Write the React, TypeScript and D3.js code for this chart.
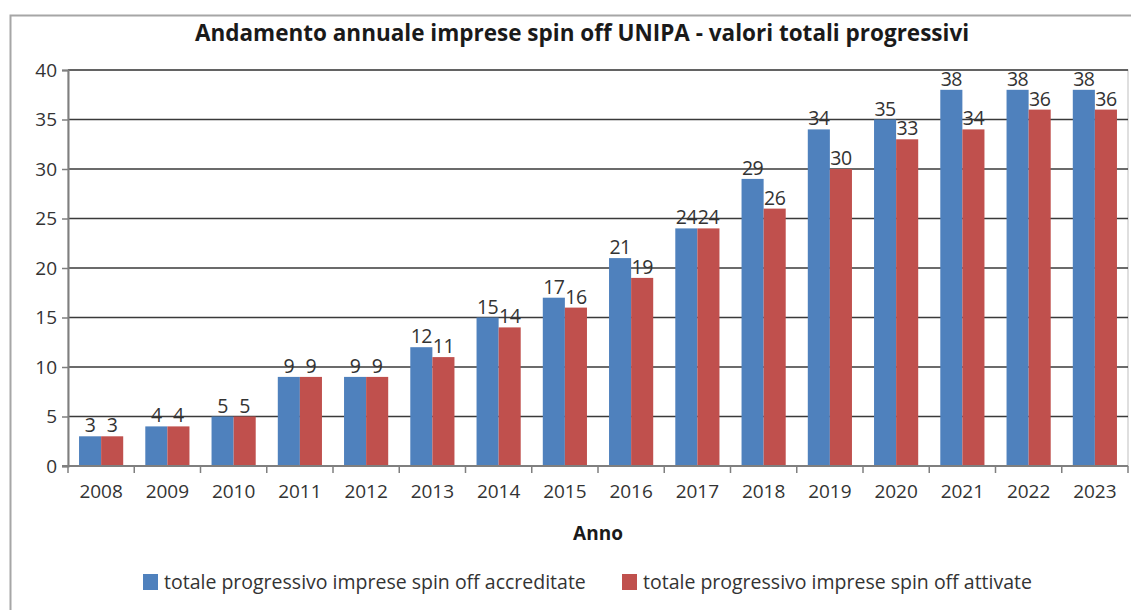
import * as d3 from 'd3';
import { useEffect, useRef } from 'react';

const years = ['2008', '2009', '2010', '2011', '2012', '2013', '2014', '2015', '2016', '2017', '2018', '2019', '2020', '2021', '2022', '2023'];
const accreditate = [3, 4, 5, 9, 9, 12, 15, 17, 21, 24, 29, 34, 35, 38, 38, 38];
const attivate = [3, 4, 5, 9, 9, 11, 14, 16, 19, 24, 26, 30, 33, 34, 36, 36];
const seriesNames = ['totale progressivo imprese spin off accreditate', 'totale progressivo imprese spin off attivate'];
const yTicks = [0, 5, 10, 15, 20, 25, 30, 35, 40];

const BarChart = () => {
  const svgRef = useRef<any>();
  const width = 1131;
  const height = 610;
  const marginLeft = 68;
  const marginRight = 3;
  const marginTop = 70;
  const plotBottom = 466;
  const font = "'Open Sans', 'DejaVu Sans', sans-serif";
  const colors = ['#4F81BD', '#C0504D'];

  useEffect(() => {
    const svg = d3.select(svgRef.current);
    svg.selectAll('*').remove();

    // outer chart border (cut off on right and bottom like the screenshot)
    svg
      .append('rect')
      .attr('x', 10.5)
      .attr('y', 15.5)
      .attr('width', 1200)
      .attr('height', 700)
      .attr('fill', 'white')
      .attr('stroke', '#a6a6a6')
      .attr('stroke-width', 2);

    svg
      .append('text')
      .attr('x', 582)
      .attr('y', 41)
      .attr('text-anchor', 'middle')
      .attr('font-family', font)
      .attr('font-weight', 'bold')
      .attr('font-size', 22.5)
      .attr('fill', '#1a1a1a')
      .text('Andamento annuale imprese spin off UNIPA - valori totali progressivi');

    const xScale = d3.scaleBand().domain(years).range([marginLeft, width - marginRight]);
    const inner = d3
      .scaleBand()
      .domain(['0', '1'])
      .range([xScale.bandwidth() / 6, (xScale.bandwidth() * 5) / 6]);
    const yScale = d3.scaleLinear().domain([0, 40]).range([plotBottom, marginTop]);

    // plot area border
    svg
      .append('rect')
      .attr('x', marginLeft)
      .attr('y', marginTop)
      .attr('width', width - marginRight - marginLeft)
      .attr('height', plotBottom - marginTop)
      .attr('fill', 'none')
      .attr('stroke', '#bfbfbf');

    // gridlines
    svg
      .append('g')
      .selectAll('line')
      .data(yTicks.filter((t) => t > 0))
      .enter()
      .append('line')
      .attr('x1', marginLeft)
      .attr('x2', width - marginRight)
      .attr('y1', (d) => yScale(d))
      .attr('y2', (d) => yScale(d))
      .attr('stroke', '#3a3a3a')
      .attr('stroke-width', 1.3);

    const series = [accreditate, attivate];
    series.forEach((vals, si) => {
      const g = svg.append('g');
      g.selectAll('rect')
        .data(vals)
        .enter()
        .append('rect')
        .attr('x', (d, i) => (xScale(years[i]) as number) + (inner(`${si}`) as number))
        .attr('width', inner.bandwidth())
        .attr('y', (d) => yScale(d))
        .attr('height', (d) => plotBottom - yScale(d))
        .attr('fill', colors[si]);
    });

    series.forEach((vals, si) => {
      svg
        .append('g')
        .selectAll('text')
        .data(vals)
        .enter()
        .append('text')
        .attr('x', (d, i) => (xScale(years[i]) as number) + (inner(`${si}`) as number) + inner.bandwidth() / 2)
        .attr('y', (d) => yScale(d) - 4)
        .attr('text-anchor', 'middle')
        .attr('font-family', font)
        .attr('font-size', 19.5)
        .attr('letter-spacing', -0.5)
        .attr('fill', '#333')
        .text((d) => d);
    });

    // y axis
    const yAxis = d3.axisLeft(yScale).tickValues(yTicks).tickSize(6).tickPadding(5);
    const ya = svg.append('g').attr('transform', `translate(${marginLeft},0)`).call(yAxis);
    ya.select('.domain').attr('stroke', '#7f7f7f').attr('stroke-width', 2);
    ya.selectAll('.tick line').attr('stroke', '#7f7f7f').attr('stroke-width', 1.5);
    ya.selectAll('.tick text').attr('font-family', font).attr('font-size', 19).attr('fill', '#333');

    // x axis with ticks between categories
    svg
      .append('line')
      .attr('x1', marginLeft - 6)
      .attr('x2', width - marginRight)
      .attr('y1', plotBottom)
      .attr('y2', plotBottom)
      .attr('stroke', '#7f7f7f')
      .attr('stroke-width', 2);
    svg
      .append('g')
      .selectAll('line')
      .data(years.concat(['end']))
      .enter()
      .append('line')
      .attr('x1', (d, i) => marginLeft + i * xScale.step())
      .attr('x2', (d, i) => marginLeft + i * xScale.step())
      .attr('y1', plotBottom)
      .attr('y2', plotBottom + 7)
      .attr('stroke', '#7f7f7f')
      .attr('stroke-width', 1.5);
    svg
      .append('g')
      .selectAll('text')
      .data(years)
      .enter()
      .append('text')
      .attr('x', (d) => (xScale(d) as number) + xScale.bandwidth() / 2)
      .attr('y', plotBottom + 32)
      .attr('text-anchor', 'middle')
      .attr('font-family', font)
      .attr('font-size', 19)
      .attr('fill', '#333')
      .text((d) => d);

    svg
      .append('text')
      .attr('x', 598)
      .attr('y', 540)
      .attr('text-anchor', 'middle')
      .attr('font-family', font)
      .attr('font-weight', 'bold')
      .attr('font-size', 19)
      .attr('fill', '#1a1a1a')
      .text('Anno');

    // legend
    const legendX = [143, 622];
    seriesNames.forEach((name, i) => {
      svg
        .append('rect')
        .attr('x', legendX[i])
        .attr('y', 574)
        .attr('width', 15)
        .attr('height', 16)
        .attr('fill', colors[i]);
      svg
        .append('text')
        .attr('x', legendX[i] + 21)
        .attr('y', 589)
        .attr('font-family', font)
        .attr('font-size', 19.5)
        .attr('fill', '#333')
        .text(name);
    });
  }, []);

  return (
    <svg
      ref={svgRef}
      width={width}
      height={height}
      style={{ position: 'absolute', left: 0, top: 0, background: 'white' }}
    />
  );
};

export default function App() {
  return <BarChart />;
}
